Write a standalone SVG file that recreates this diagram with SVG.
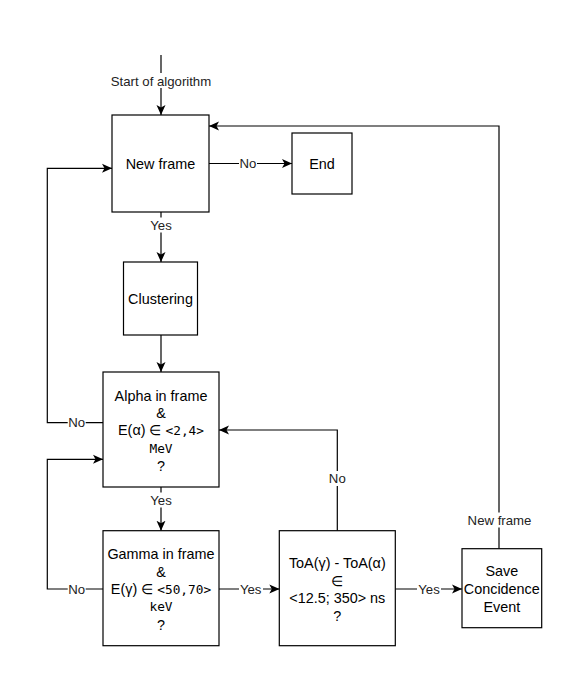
<svg xmlns="http://www.w3.org/2000/svg" width="581" height="694" viewBox="0 0 581 694">
<style>
.box{fill:#fff;stroke:#000;stroke-width:1.2}
.t{font-family:"Liberation Sans",Arial,sans-serif;font-size:14.4px;fill:#000;text-anchor:middle}
.m{font-family:"DejaVu Sans Mono",monospace;font-size:12.8px}
.lbl{font-family:"Liberation Sans",Arial,sans-serif;font-size:13.2px;fill:#222;text-anchor:middle}
.bg{fill:#fff;stroke:none}
.e{fill:none;stroke:#000;stroke-width:1.2}
</style>
<defs>
<marker id="arr" viewBox="0 0 10 10" refX="10" refY="5" markerUnits="userSpaceOnUse" markerWidth="10" markerHeight="10" orient="auto">
<path d="M0,0.5 L10,5 L0,9.5 L2.5,5 Z" fill="#000"/>
</marker>
</defs>
<rect width="581" height="694" fill="#fff"/>
<g id="connectors">
<path class="e" d="M161,55 V115" marker-end="url(#arr)"/>
<path class="e" d="M209,163.5 H292" marker-end="url(#arr)"/>
<path class="e" d="M161,212 V262" marker-end="url(#arr)"/>
<path class="e" d="M161,335 V372" marker-end="url(#arr)"/>
<path class="e" d="M161,487 V530.7" marker-end="url(#arr)"/>
<path class="e" d="M219,589 H279.3" marker-end="url(#arr)"/>
<path class="e" d="M395.3,589 H462" marker-end="url(#arr)"/>
<path class="e" d="M499,548.7 V126 H209" marker-end="url(#arr)"/>
<path class="e" d="M337.3,530.7 V430 H219" marker-end="url(#arr)"/>
<path class="e" d="M103,422.7 H47.3 V168.3 H112" marker-end="url(#arr)"/>
<path class="e" d="M103,589 H47.3 V459.3 H103" marker-end="url(#arr)"/>
<g id="labels">
<rect class="bg" x="110" y="73" width="102" height="15"/>
<text class="lbl" x="161" y="85.5">Start of algorithm</text>
<rect class="bg" x="239" y="156" width="18" height="15"/>
<text class="lbl" x="248" y="168.2">No</text>
<rect class="bg" x="149" y="217.5" width="24" height="15"/>
<text class="lbl" x="161" y="229.7">Yes</text>
<rect class="bg" x="149" y="492.5" width="24" height="15"/>
<text class="lbl" x="161" y="504.7">Yes</text>
<rect class="bg" x="239" y="581.5" width="24" height="15"/>
<text class="lbl" x="250.7" y="593.7">Yes</text>
<rect class="bg" x="417" y="581.5" width="24" height="15"/>
<text class="lbl" x="429" y="593.7">Yes</text>
<rect class="bg" x="467" y="512.5" width="66" height="15"/>
<text class="lbl" x="499.5" y="524.7">New frame</text>
<rect class="bg" x="328.3" y="471" width="18" height="15"/>
<text class="lbl" x="337.3" y="483">No</text>
<rect class="bg" x="67.7" y="415" width="18" height="15"/>
<text class="lbl" x="76.7" y="427.4">No</text>
<rect class="bg" x="67.7" y="581.5" width="18" height="15"/>
<text class="lbl" x="76.7" y="593.7">No</text>
</g>
</g>
<g id="new-frame">
<rect class="box" x="112" y="115" width="97" height="97"/>
<text class="t" x="160.5" y="168.5">New frame</text>
</g>
<g id="end">
<rect class="box" x="292" y="133" width="60" height="61"/>
<text class="t" x="322" y="168.5">End</text>
</g>
<g id="clustering">
<rect class="box" x="123.5" y="262" width="74" height="73"/>
<text class="t" x="160.5" y="303.5">Clustering</text>
</g>
<g id="alpha">
<rect class="box" x="103" y="372" width="116" height="115"/>
<text class="t" x="161" y="401">Alpha in frame</text>
<text class="t" x="161" y="418.3">&amp;</text>
<text class="t" x="161" y="435">E(α) ∈ <tspan class="m">&lt;2,4&gt;</tspan></text>
<text class="t m" x="161" y="452.8">MeV</text>
<text class="t" x="161" y="470.7">?</text>
</g>
<g id="gamma">
<rect class="box" x="103" y="530.7" width="116" height="115"/>
<text class="t" x="161" y="559.3">Gamma in frame</text>
<text class="t" x="161" y="576.7">&amp;</text>
<text class="t" x="161" y="594">E(γ) ∈ <tspan class="m">&lt;50,70&gt;</tspan></text>
<text class="t m" x="161" y="611.2">keV</text>
<text class="t" x="161" y="630">?</text>
</g>
<g id="toa">
<rect class="box" x="279.3" y="530.7" width="116" height="115"/>
<text class="t" x="337.3" y="568.3">ToA(γ) - ToA(α)</text>
<text class="t" x="337.3" y="585.7">∈</text>
<text class="t" x="337.3" y="603.3">&lt;12.5; 350&gt; ns</text>
<text class="t" x="337.3" y="621">?</text>
</g>
<g id="save">
<rect class="box" x="462" y="548.7" width="79.7" height="79"/>
<text class="t" x="501.8" y="575.7">Save</text>
<text class="t" x="501.8" y="594">Concidence</text>
<text class="t" x="501.8" y="611.7">Event</text>
</g>
</svg>
